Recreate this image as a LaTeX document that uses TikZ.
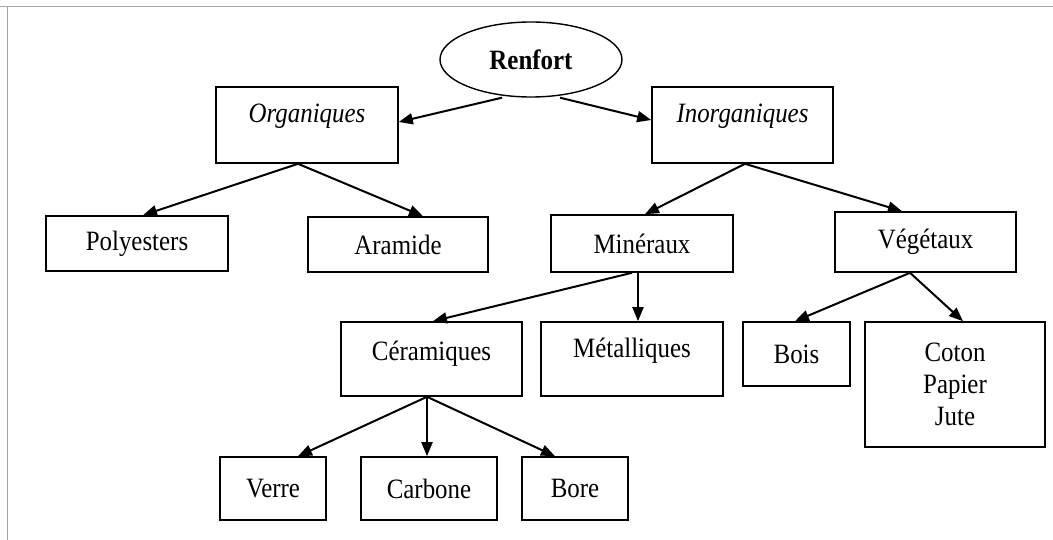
\documentclass[tikz,border=0pt]{standalone}
\usepackage{fontspec}
\setmainfont{Liberation Serif}[FakeStretch=0.89]
\usetikzlibrary{arrows.meta,shapes.geometric}
\begin{document}
\begin{tikzpicture}[x=1pt,y=-1pt,
  box/.style={draw=black,line width=1.6pt,rectangle,inner sep=0pt,align=center,font=\fontsize{28}{32}\selectfont},
  oval/.style={draw=black,line width=1.4pt,ellipse,inner sep=0pt,font=\fontsize{28}{32}\selectfont\bfseries},
  conn/.style={line width=2pt,-{Triangle[length=14pt,width=11pt]}},
  frameline/.style={draw=gray!70,line width=1pt}
  ]
\useasboundingbox (0,0) rectangle (1053,540);
\draw[frameline] (0,7) -- (1053,7) (7,7) -- (7,540);

\node[oval,minimum width=182pt,minimum height=75pt] (ren) at (531,59.5) {Renfort};
\node[box,minimum width=182pt,minimum height=76pt,text height=36pt,text depth=40pt] (org) at (307,125) {\textit{Organiques}};
\node[box,minimum width=181pt,minimum height=76pt,text height=36pt,text depth=40pt] (inorg) at (742.5,125) {\textit{Inorganiques}};
\node[box,minimum width=182pt,minimum height=55pt] (poly) at (137,243.5) {Polyesters};
\node[box,minimum width=180pt,minimum height=55pt] (ara) at (398,244.5) {Aramide};
\node[box,minimum width=182pt,minimum height=57pt] (min) at (642,243.5) {Minéraux};
\node[box,minimum width=181pt,minimum height=60pt] (veg) at (925.5,242) {Végétaux};
\node[box,minimum width=181pt,minimum height=74pt,text height=38pt,text depth=36pt] (cer) at (431.5,359) {Céramiques};
\node[box,minimum width=182pt,minimum height=74pt,text height=35pt,text depth=39pt] (met) at (632,359) {Métalliques};
\node[box,minimum width=107pt,minimum height=64pt] (bois) at (796.5,354) {Bois};
\node[box,minimum width=180pt,minimum height=125pt] (coton) at (955,384.5) {Coton\\Papier\\Jute};
\node[box,minimum width=106pt,minimum height=63pt] (verre) at (273,488.5) {Verre};
\node[box,minimum width=136pt,minimum height=63pt] (carb) at (429,488.5) {Carbone};
\node[box,minimum width=106pt,minimum height=63pt] (bore) at (575,488.5) {Bore};

\draw[conn] ([xshift=-29pt]ren.south) -- ([yshift=3pt]org.east);
\draw[conn] ([xshift=29pt]ren.south) -- ([yshift=5pt]inorg.west);
\draw[conn] ([xshift=-9pt]org.south) -- ([xshift=6pt]poly.north);
\draw[conn] ([xshift=-9pt]org.south) -- ([xshift=25pt]ara.north);
\draw[conn] ([xshift=2.5pt]inorg.south) -- ([xshift=3pt]min.north);
\draw[conn] ([xshift=2.5pt]inorg.south) -- ([xshift=-23.5pt]veg.north);
\draw[conn] ([xshift=-10pt]min.south) -- ([xshift=1.5pt]cer.north);
\draw[conn] ([xshift=-4pt]min.south) -- ([xshift=6pt]met.north);
\draw[conn] ([xshift=-15.5pt]veg.south) -- ([xshift=-1.5pt]bois.north);
\draw[conn] ([xshift=-15.5pt]veg.south) -- ([xshift=8pt]coton.north);
\draw[conn] ([xshift=-4.5pt]cer.south) -- ([xshift=25pt]verre.north);
\draw[conn] ([xshift=-4.5pt]cer.south) -- ([xshift=-2pt]carb.north);
\draw[conn] ([xshift=-4.5pt]cer.south) -- ([xshift=-20pt]bore.north);
\end{tikzpicture}
\end{document}
